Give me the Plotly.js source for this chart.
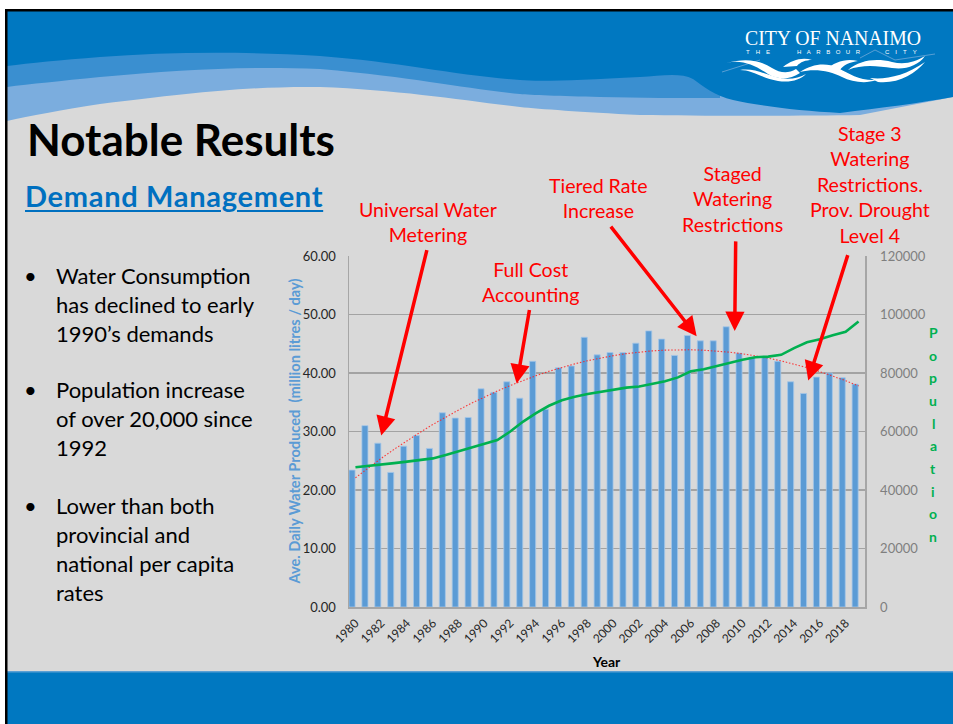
<!DOCTYPE html>
<html><head><meta charset="utf-8">
<script src="https://cdn.plot.ly/plotly-3.0.1.min.js"></script>
<style>
html,body{margin:0;padding:0;background:#fff;width:953px;height:724px;overflow:hidden;font-family:Lato,'Open Sans',sans-serif;}
#bg{position:absolute;left:0;top:0;}
#chart{position:absolute;left:0;top:0;width:953px;height:724px;}
.t{position:absolute;white-space:nowrap;color:#000;}
</style></head><body>
<svg id="bg" width="953" height="724" xmlns="http://www.w3.org/2000/svg">
  <rect x="0" y="0" width="953" height="724" fill="#ffffff"/>
  <rect x="7" y="10" width="946" height="714" fill="#d9d9d9"/>
  <path d="M7,10 H953 V97 L860,115 C800,116 700,116 640,115 C580,112 540,109 520,107 C460,100 400,90 320,87 C250,86 190,93 100,104 C60,110 30,116 7,121 Z" fill="#7badde"/>
  <path d="M7,10 H720 V98 C680,98 640,98 600,97 C560,96 530,95 520,94 C460,88 420,78 320,69 C240,66 180,70 100,77 C60,81 30,84 7,87 Z" fill="#3a8fd0"/>
  <path d="M7,10 H953 V97 C920,103 880,108 840,113 C800,111 760,106 733,100 C715,96 703,86 693,79 C680,72 660,76 640,77 C580,80 540,82 520,80 C460,76 400,62 320,56 C240,51 167,52 100,57 C60,60 30,63 7,66 Z" fill="#0078c1"/>
  <rect x="7" y="672" width="946" height="52" fill="#0078c1"/>
  <rect x="7" y="671" width="946" height="1.5" fill="#5a9fd4"/>
  <rect x="5" y="9" width="948" height="2.5" fill="#000"/>
  <rect x="5" y="9" width="2.5" height="715" fill="#000"/>
  <text x="745" y="45" font-family="Liberation Serif" font-size="20" fill="#fff" textLength="176" lengthAdjust="spacingAndGlyphs">CITY OF NANAIMO</text>
  <text x="746" y="54" font-family="Liberation Sans" font-size="6" fill="#fff" letter-spacing="6">THE</text>
  <text x="797" y="54" font-family="Liberation Sans" font-size="6" fill="#fff" letter-spacing="5.5">HARBOUR</text>
  <text x="885" y="54" font-family="Liberation Sans" font-size="6" fill="#fff" letter-spacing="6">CITY</text>
  <path d="M722,72 L760,60 M860,58 L875,50 L895,60 L935,54" stroke="#6fa8d8" stroke-width="0.8" fill="none"/>
  <path d="M727,63 C742,59 756,66 768,74 C778,80 790,80 800,73 L796,69 C788,74 780,73 772,68 C760,60 745,58 727,63 Z" fill="#fff"/>
  <path d="M740,70 C752,70 762,78 778,81 C790,83 800,80 806,74 C798,79 786,80 776,77 C764,74 754,68 740,70 Z" fill="#fff"/>
  <path d="M783,67 C792,60 802,57 812,60 C806,60 800,62 797,66 Z" fill="#fff"/>
  <path d="M800,72 C812,64 826,62 838,68 C850,74 860,81 876,80 C866,84 852,82 842,77 C830,71 815,68 800,72 Z" fill="#fff"/>
  <path d="M826,70 C834,62 846,58 858,61 C850,62 843,65 840,70 Z" fill="#fff"/>
  <path d="M848,70 C860,60 876,58 892,62 C905,65 915,62 925,56 C918,66 905,70 892,68 C878,66 862,64 848,70 Z" fill="#fff"/>
  <path d="M870,78 C885,80 905,76 925,62 C915,74 898,84 878,82 Z" fill="#fff"/>
</svg>
<div id="chart"></div>
<div class="t" style="left:27px;top:117px;font-size:44px;line-height:44px;font-weight:700;">Notable Results</div>
<div class="t" style="left:25px;top:181px;font-size:29px;line-height:29px;font-weight:700;color:#0070c0;text-decoration:underline;text-decoration-thickness:2px;text-underline-offset:3px;letter-spacing:0.7px;">Demand Management</div>
<div class="t" style="left:24px;top:261px;font-size:22px;line-height:29px;">•</div>
<div class="t" style="left:56px;top:261px;font-size:22px;line-height:29px;">Water Consumption<br>has declined to early<br>1990’s demands</div>
<div class="t" style="left:24px;top:375px;font-size:22px;line-height:29px;">•</div>
<div class="t" style="left:56px;top:375px;font-size:22px;line-height:29px;">Population increase<br>of over 20,000 since<br>1992</div>
<div class="t" style="left:24px;top:491px;font-size:22px;line-height:29px;">•</div>
<div class="t" style="left:56px;top:491px;font-size:22px;line-height:29px;">Lower than both<br>provincial and<br>national per capita<br>rates</div>
<script>
const years = [1980,1981,1982,1983,1984,1985,1986,1987,1988,1989,1990,1991,1992,1993,1994,1995,1996,1997,1998,1999,2000,2001,2002,2003,2004,2005,2006,2007,2008,2009,2010,2011,2012,2013,2014,2015,2016,2017,2018,2019];
const waterMLD = [23.4,31.0,28.0,23.0,27.5,29.3,27.1,33.2,32.3,32.4,37.3,36.7,38.5,35.7,42.0,33.8,40.9,41.2,46.1,43.1,43.5,43.5,45.1,47.2,45.8,43.0,46.4,45.5,45.5,47.9,43.4,42.7,42.7,42.0,38.5,36.5,39.3,40.0,39.2,38.1];
const trendMLD = [22.10,23.79,25.41,26.96,28.43,29.85,31.20,32.48,33.69,34.84,35.92,36.92,37.86,38.74,39.55,40.29,40.96,41.56,42.10,42.57,42.97,43.31,43.58,43.78,43.91,43.97,43.97,43.90,43.77,43.56,43.29,42.95,42.54,42.07,41.53,40.92,40.24,39.49,38.68,37.80];
const population = [47800,48200,48700,49200,49700,50200,50800,52000,53300,54500,55800,57100,60000,63400,66300,68800,70700,71900,72800,73600,74300,75000,75400,76200,77200,78500,80600,81300,82400,83500,84500,85400,85600,86200,88500,90500,91500,92900,94100,97600];
const tickYears = [1980,1982,1984,1986,1988,1990,1992,1994,1996,1998,2000,2002,2004,2006,2008,2010,2012,2014,2016,2018];
const leftTitle = 'Ave. Daily Water Produced  (million litres / day)';
const rightTitle = 'Population';
const xTitle = 'Year';
const notes = [
  {text:'Universal Water<br>Metering', px:428, py:222},
  {text:'Full Cost<br>Accounting', px:530, py:282},
  {text:'Tiered Rate<br>Increase', px:598, py:198},
  {text:'Staged<br>Watering<br>Restrictions', px:732, py:198.5},
  {text:'Stage 3<br>Watering<br>Restrictions.<br>Prov. Drought<br>Level 4', px:870, py:184.5}
];
const arrows = [
  {x:1982.0, y:29.3, ax:46, ay:-187},
  {x:1992.5, y:38.2, ax:13, ay:-75},
  {x:2006.45, y:46.3, ax:-87, ay:-111},
  {x:2009.4, y:47.2, ax:1, ay:-91},
  {x:2015.1, y:38.7, ax:40, ay:-127}
];

const L = 349, R = 865, T = 256, B = 607;
const px2x = p => (p - L) / (R - L);
const py2y = p => (B - p) / (B - T);
const FONT = 'Lato, "Open Sans", sans-serif';

const traces = [
  {type:'bar', x:years, y:waterMLD, offset:-0.5, width:0.47,
   marker:{color:'#5b9bd5', line:{color:'#a4c6e8', width:0.8}}, hoverinfo:'x+y'},
  {type:'scatter', mode:'lines', x:years, y:trendMLD,
   line:{color:'rgba(255,30,30,0.85)', width:1.1, dash:'1.5px,1.8px'}},
  {type:'scatter', mode:'lines', x:years, y:population, yaxis:'y2',
   line:{color:'#00b050', width:2.6}}
];

const ann = [];
notes.forEach(n => ann.push({xref:'paper', yref:'paper', x:px2x(n.px), y:py2y(n.py),
  text:n.text, showarrow:false, xanchor:'center', yanchor:'middle',
  font:{family:FONT, size:19.6, color:'#ff0000'}}));
arrows.forEach(a => ann.push({xref:'x', yref:'y', x:a.x, y:a.y, ax:a.ax, ay:a.ay, text:'',
  showarrow:true, arrowhead:2, arrowsize:1.1, arrowwidth:3.5, arrowcolor:'#ff0000', standoff:0}));
ann.push({xref:'paper', yref:'paper', x:px2x(294), y:py2y(431.5), text:'<b>'+leftTitle+'</b>',
  textangle:-90, showarrow:false, xanchor:'center', yanchor:'middle',
  font:{family:FONT, size:14.6, color:'#5b9bd5'}});
ann.push({xref:'paper', yref:'paper', x:px2x(606), y:py2y(661), text:'<b>'+xTitle+'</b>',
  showarrow:false, xanchor:'center', yanchor:'middle', font:{family:FONT, size:14, color:'#000'}});
rightTitle.split('').forEach((ch, i) => ann.push({xref:'paper', yref:'paper', x:px2x(933),
  y:py2y(332.3 + i*22.7), text:'<b>'+ch+'</b>', showarrow:false, xanchor:'center', yanchor:'middle',
  font:{family:FONT, size:14, color:'#00b050'}}));

const layout = {
  width:953, height:724,
  margin:{l:L, r:953-R, t:T, b:724-B, pad:0},
  paper_bgcolor:'rgba(0,0,0,0)', plot_bgcolor:'rgba(0,0,0,0)',
  showlegend:false, bargap:0,
  font:{family:FONT},
  xaxis:{range:[1979.5,2019.5], tickvals:tickYears, ticktext:tickYears.map(String), tickangle:-45,
    tickfont:{family:FONT, size:12, color:'#262626'}, showgrid:false, zeroline:false,
    showline:true, linecolor:'#a6a6a6', linewidth:1.5, ticks:'outside', ticklen:3, tickcolor:'rgba(0,0,0,0)'},
  yaxis:{range:[0,60], dtick:10, tickformat:'.2f', gridcolor:'#a3a3a3', gridwidth:1.5,
    showline:true, linecolor:'#a6a6a6', linewidth:1.5, zeroline:false,
    tickfont:{family:FONT, size:13, color:'#262626'}, ticks:'outside', ticklen:9, tickcolor:'rgba(0,0,0,0)'},
  yaxis2:{range:[0,120000], dtick:20000, tickformat:'d', overlaying:'y', side:'right', showgrid:false,
    showline:true, linecolor:'#a6a6a6', linewidth:1.5, zeroline:false,
    tickfont:{family:FONT, size:13, color:'#7f7f7f'}, ticks:'outside', ticklen:11, tickcolor:'rgba(0,0,0,0)'},
  annotations:ann
};
Plotly.newPlot('chart', traces, layout, {displayModeBar:false, staticPlot:true});
</script>
</body></html>
